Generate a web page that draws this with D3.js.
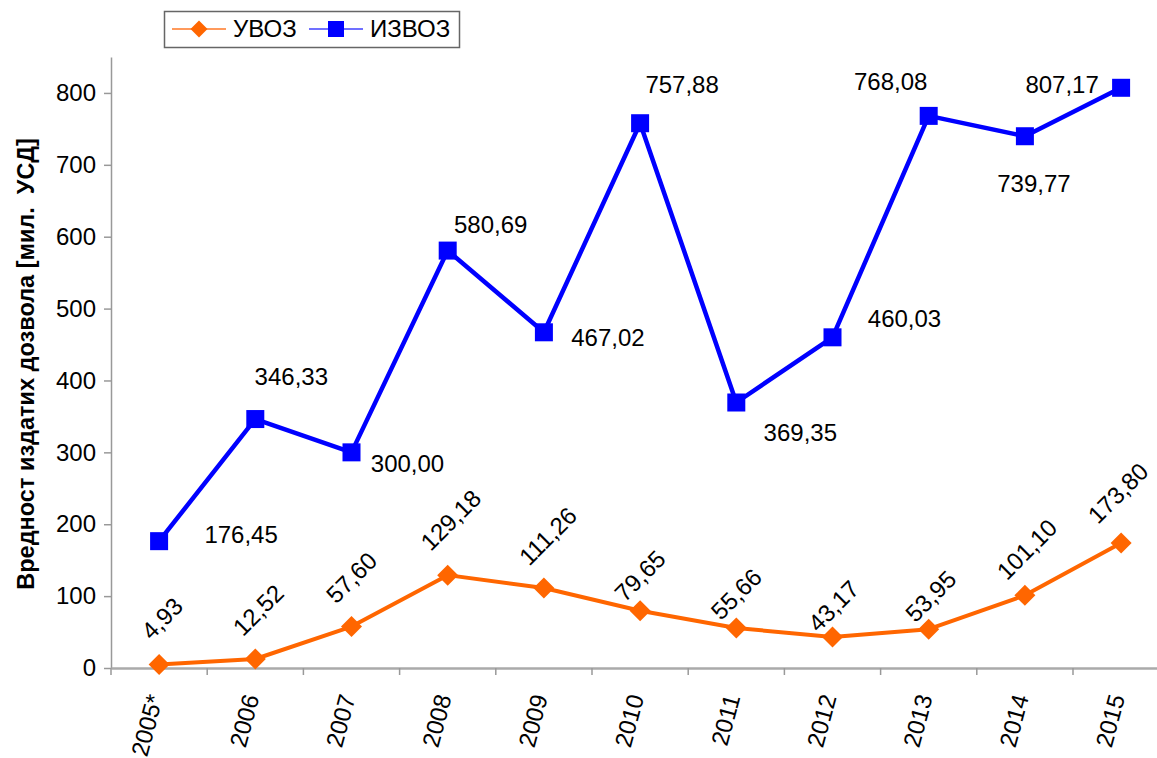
<!DOCTYPE html>
<html>
<head>
<meta charset="utf-8">
<script src="https://cdn.jsdelivr.net/npm/d3@7"></script>
<style>
	body { margin: 0; background: #fff; }
	svg { display: block; font-family: 'Liberation Sans', Arial, sans-serif; }
</style>
</head>
<body>
<div id="graph"></div>
<script>
// values
var categories = ['2005*', '2006', '2007', '2008', '2009', '2010', '2011', '2012', '2013', '2014', '2015'];
var uvoz = [4.93, 12.52, 57.60, 129.18, 111.26, 79.65, 55.66, 43.17, 53.95, 101.10, 173.80];
var izvoz = [176.45, 346.33, 300.00, 580.69, 467.02, 757.88, 369.35, 460.03, 768.08, 739.77, 807.17];
var yTicks = [0, 100, 200, 300, 400, 500, 600, 700, 800];
var seriesNames = ['УВОЗ', 'ИЗВОЗ'];
var yTitle = 'Вредност издатих дозвола [мил.  УСД]';

// label nudges (label centre relative to its point), hand placed like in the original
var izvozLabelShift = [[82, -7], [36, -42], [56, 11], [43, -26], [64, 5], [42, -39], [64, 30], [72, -19], [-38, -34], [9, 47], [-59, -3]];
var uvozLabelShift = [[3, -46], [3, -49], [0, -49], [3, -55], [4, -52], [0, -35], [0, -34], [1, -31], [2, -33], [2, -46], [-3, -50]];

var width = 1157,
	height = 758;

var orange = '#ff6600',
	blue = '#0000ff';

var locale = d3.formatLocale({decimal: ',', thousands: '.', grouping: [3], currency: ['', '']});
var fmt = locale.format('.2f');

var xScale = d3.scaleBand()
	.domain(categories)
	.range([111, 1169.2])
	.padding(0);

var yScale = d3.scaleLinear()
	.domain([0, 850])
	.range([668, 57]);

var svg = d3.select('#graph').append('svg')
	.attr('width', width)
	.attr('height', height);

function cx(i) {
	return xScale(categories[i]) + xScale.bandwidth() / 2;
}

function drawAxes() {
	// y axis
	var yAxis = d3.axisLeft(yScale)
		.tickValues(yTicks)
		.tickSizeInner(7)
		.tickSizeOuter(0)
		.tickPadding(8);

	var gy = svg.append('g')
		.attr('class', 'yAxis')
		.attr('transform', 'translate(111,0)')
		.call(yAxis);

	gy.select('.domain').attr('stroke', '#999').attr('stroke-width', 1.5);
	gy.selectAll('.tick line').attr('stroke', '#999').attr('stroke-width', 1.5);
	gy.selectAll('.tick text')
		.attr('font-size', 24)
		.attr('fill', '#000')
		.style('font-family', "'Liberation Sans', Arial, sans-serif");

	// x axis, ticks sit between the categories
	var xAxis = d3.axisBottom(xScale)
		.tickSizeInner(7)
		.tickSizeOuter(0)
		.tickPadding(0);

	var gx = svg.append('g')
		.attr('class', 'xAxis')
		.attr('transform', 'translate(0,668)')
		.call(xAxis);

	gx.select('.domain').attr('stroke', '#aaa').attr('stroke-width', 2.5);
	gx.selectAll('.tick line')
		.attr('stroke', '#999')
		.attr('stroke-width', 1.5)
		.attr('x1', -xScale.bandwidth() / 2)
		.attr('x2', -xScale.bandwidth() / 2);

	gx.selectAll('.tick text')
		.attr('font-size', 24)
		.attr('fill', '#000')
		.style('font-family', "'Liberation Sans', Arial, sans-serif")
		.attr('text-anchor', 'end')
		.attr('y', 0)
		.attr('dy', '0.35em')
		.attr('transform', 'translate(-4,27) rotate(-75)');

	// y title
	svg.append('text')
		.attr('transform', 'translate(34,' + 364 + ') rotate(-90)')
		.attr('text-anchor', 'middle')
		.attr('font-size', 23.5)
		.attr('font-weight', 'bold')
		.style('white-space', 'pre')
		.text(yTitle);
}

function diamond(sel, r) {
	return sel.attr('d', 'M0,' + (-r) + 'L' + r + ',0L0,' + r + 'L' + (-r) + ',0Z');
}

function drawSeries() {
	var line = d3.line()
		.x(function(d, i) { return cx(i); })
		.y(function(d) { return yScale(d); });

	// ИЗВОЗ
	svg.append('path')
		.datum(izvoz)
		.attr('fill', 'none')
		.attr('stroke', blue)
		.attr('stroke-width', 4.5)
		.attr('stroke-linejoin', 'round')
		.attr('d', line);

	svg.selectAll('rect.izvoz').data(izvoz).enter()
		.append('rect')
		.attr('class', 'izvoz')
		.attr('x', function(d, i) { return cx(i) - 9; })
		.attr('y', function(d) { return yScale(d) - 9; })
		.attr('width', 18)
		.attr('height', 18)
		.attr('fill', blue);

	svg.selectAll('text.izvozLabel').data(izvoz).enter()
		.append('text')
		.attr('class', 'izvozLabel')
		.attr('x', function(d, i) { return cx(i) + izvozLabelShift[i][0]; })
		.attr('y', function(d, i) { return yScale(d) + izvozLabelShift[i][1]; })
		.attr('dy', '0.35em')
		.attr('text-anchor', 'middle')
		.attr('font-size', 24)
		.attr('fill', '#000')
		.text(function(d) { return fmt(d); });

	// УВОЗ
	svg.append('path')
		.datum(uvoz)
		.attr('fill', 'none')
		.attr('stroke', orange)
		.attr('stroke-width', 4)
		.attr('stroke-linejoin', 'round')
		.attr('d', line);

	svg.selectAll('path.uvoz').data(uvoz).enter()
		.append('path')
		.attr('class', 'uvoz')
		.attr('transform', function(d, i) { return 'translate(' + cx(i) + ',' + yScale(d) + ')'; })
		.attr('fill', orange)
		.call(diamond, 10.5);

	svg.selectAll('text.uvozLabel').data(uvoz).enter()
		.append('text')
		.attr('class', 'uvozLabel')
		.attr('transform', function(d, i) {
			return 'translate(' + (cx(i) + uvozLabelShift[i][0]) + ',' + (yScale(d) + uvozLabelShift[i][1]) + ') rotate(-45)';
		})
		.attr('dy', '0.35em')
		.attr('text-anchor', 'middle')
		.attr('font-size', 24)
		.attr('fill', '#000')
		.text(function(d) { return fmt(d); });
}

function drawLegend() {
	var lg = svg.append('g').attr('class', 'legend');

	lg.append('rect')
		.attr('x', 164.5)
		.attr('y', 11.5)
		.attr('width', 295)
		.attr('height', 36)
		.attr('fill', '#fff')
		.attr('stroke', '#666')
		.attr('stroke-width', 1.5);

	// УВОЗ entry
	lg.append('line')
		.attr('x1', 172).attr('x2', 226)
		.attr('y1', 29).attr('y2', 29)
		.attr('stroke', '#ff9a5c')
		.attr('stroke-width', 2);
	lg.append('path')
		.attr('transform', 'translate(199,29)')
		.attr('fill', orange)
		.call(diamond, 8.5);
	lg.append('text')
		.attr('x', 233).attr('y', 29)
		.attr('dy', '0.35em')
		.attr('font-size', 24)
		.text(seriesNames[0]);

	// ИЗВОЗ entry
	lg.append('line')
		.attr('x1', 309).attr('x2', 363)
		.attr('y1', 29).attr('y2', 29)
		.attr('stroke', '#7070ff')
		.attr('stroke-width', 2);
	lg.append('rect')
		.attr('x', 328).attr('y', 21)
		.attr('width', 16).attr('height', 16)
		.attr('fill', blue);
	lg.append('text')
		.attr('x', 370).attr('y', 29)
		.attr('dy', '0.35em')
		.attr('font-size', 24)
		.text(seriesNames[1]);
}

drawAxes();
drawSeries();
drawLegend();
</script>
</body>
</html>
